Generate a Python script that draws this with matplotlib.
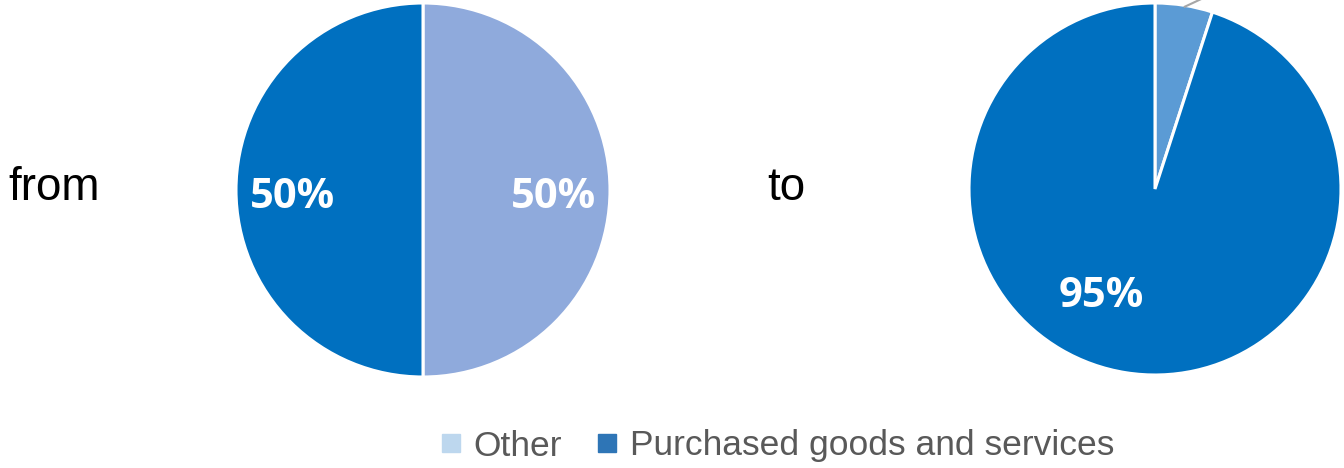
import matplotlib
matplotlib.use("Agg")
import matplotlib.pyplot as plt
from matplotlib.lines import Line2D

# shares of emissions by category
categories = ["Other", "Purchased goods and services"]
share_from = [50, 50]
share_to = [5, 95]

colors_from = ["#8FAADC", "#0070C0"]
colors_to = ["#5B9BD5", "#0070C0"]
legend_colors = ["#BDD7EE", "#2E75B6"]

fig = plt.figure(figsize=(13.44, 4.68), dpi=100)

ax1 = fig.add_axes([236 / 1344, 91 / 468, 374 / 1344, 374 / 468])
ax2 = fig.add_axes([969 / 1344, 93 / 468, 372 / 1344, 372 / 468])

wedge_kw = dict(edgecolor="white", linewidth=2.2)

ax1.pie(share_from, colors=colors_from, startangle=90, counterclock=False,
        radius=1, wedgeprops=wedge_kw)
ax2.pie(share_to, colors=colors_to, startangle=90, counterclock=False,
        radius=1, wedgeprops=wedge_kw)

lab = dict(color="white", fontsize=30, fontweight="bold", family="Open Sans",
           ha="center", va="center")
ax1.text(0.70, -0.04, f"{share_from[0]}%", **lab)
ax1.text(-0.70, -0.04, f"{share_from[1]}%", **lab)
ax2.text(-0.29, -0.58, f"{share_to[1]}%", **lab)

# leader line for the small slice, its label runs off the top
ax2.plot([0.16, 0.31], [0.98, 1.05], color="#A6A6A6", lw=1.5, clip_on=False)

for ax in (ax1, ax2):
    ax.set_xlim(-1.0, 1.0)
    ax.set_ylim(-1.0, 1.0)
    ax.set_aspect("equal")
    ax.axis("off")

fig.text(8 / 1344, 1 - 188 / 468, "from", fontsize=33, family="Liberation Sans",
         ha="left", va="center")
fig.text(767 / 1344, 1 - 188 / 468, "to", fontsize=33, family="Liberation Sans",
         ha="left", va="center")

handles = [Line2D([], [], marker="s", ls="", color=c, markersize=13)
           for c in legend_colors]
leg = fig.legend(handles, categories, loc="center", bbox_to_anchor=(777 / 1344, 1 - 446 / 468),
                 ncol=2, frameon=False, handlelength=0.6, handletextpad=0.35,
                 columnspacing=0.95,
                 prop={"family": "Liberation Sans", "size": 25.5})
for t in leg.get_texts():
    t.set_color("#595959")

fig.savefig("out.png", dpi=100)
